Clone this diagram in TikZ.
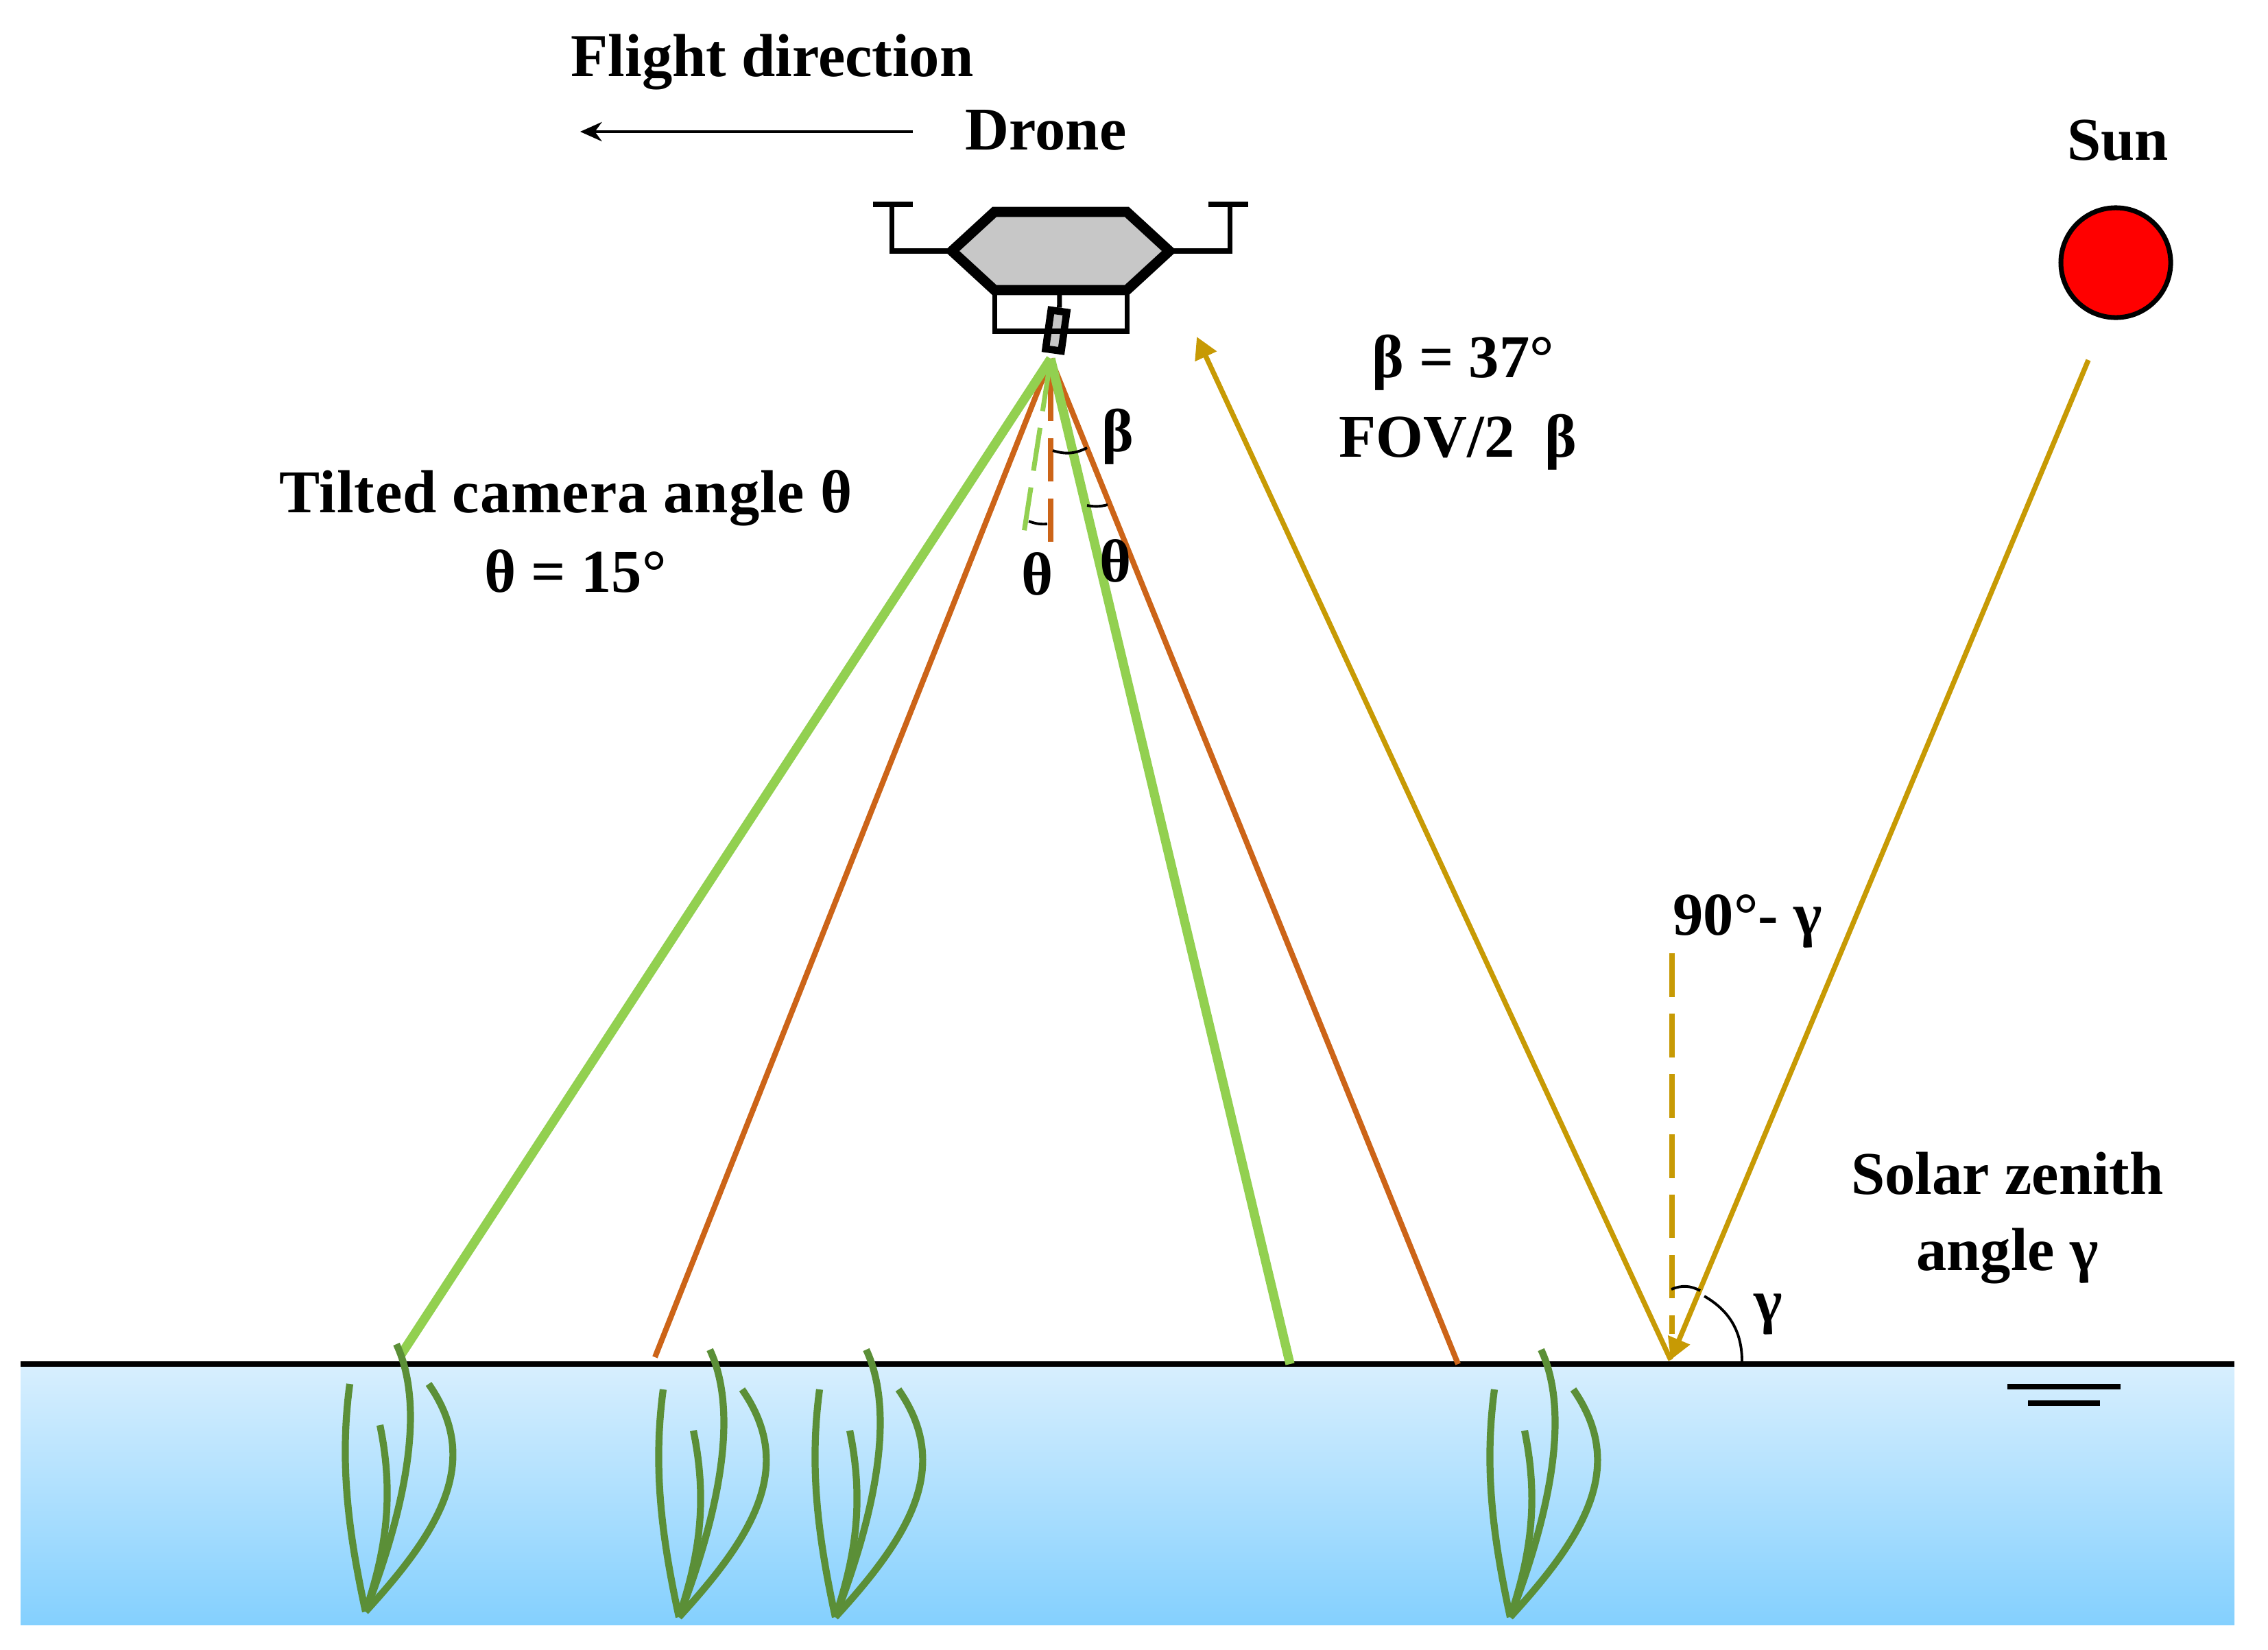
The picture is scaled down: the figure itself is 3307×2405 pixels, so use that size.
\documentclass[tikz,border=0pt]{standalone}
\usepackage{fontspec}
\setmainfont{Liberation Serif}
\usetikzlibrary{arrows.meta}
\definecolor{leafgreen}{HTML}{92D050}
\definecolor{rayorange}{HTML}{CC6418}
\definecolor{raygold}{HTML}{C79A04}
\definecolor{grassgreen}{HTML}{5B8F37}
\definecolor{waterTop}{HTML}{D8EFFE}
\definecolor{waterBottom}{HTML}{84D0FE}
\tikzset{
  lbl/.style={font=\bfseries\fontsize{25.2}{30}\selectfont, inner sep=0pt, align=center},
  greenray/.style={leafgreen, line width=3.8pt},
  orangeray/.style={rayorange, line width=2.3pt},
  goldray/.style={raygold, line width=2.1pt},
  goldtip/.style={-{Triangle[length=9pt,width=9.4pt]}},
  angarc/.style={black, line width=1.1pt},
  droneline/.style={black, line width=2pt},
  grass/.style={grassgreen, line width=2.9pt},
  pics/seagrass/.style={code={
    \draw[grass] (45,-390) .. controls (92,-290) and (50,-130) .. (0,0);
    \draw[grass] (-23,-332) .. controls (-38,-220) and (-26,-120) .. (0,0);
    \draw[grass] (21,-272) .. controls (42,-170) and (30,-90) .. (0,0);
    \draw[grass] (92,-332) .. controls (170,-220) and (110,-120) .. (0,0);
  }},
}
\begin{document}
\begin{tikzpicture}[x=0.01cm, y=-0.01cm]
  \useasboundingbox (0,0) rectangle (3307,2405);
  % water
  \shade[top color=waterTop, bottom color=waterBottom] (30,1989) rectangle (3258,2369);
  \coordinate (shoreL) at (30,1989);
  \coordinate (shoreR) at (3258,1989);
  \draw[black, line width=2.2pt] (shoreL) -- (shoreR);
  \draw[black, line width=2.2pt] (2927,2022) -- (3092,2022);
  \draw[black, line width=2.2pt] (2957,2046) -- (3062,2046);

  % view lines
  \coordinate (apex) at (1532,523);
  \coordinate (greenL) at (585,1975);
  \coordinate (greenR) at (1881,1989);
  \coordinate (orangeL) at (955,1979);
  \coordinate (orangeR) at (2126,1989);
  \coordinate (greenAxis) at (1493,777);
  \coordinate (orangeAxis) at (1532,790);
  \draw[orangeray] (apex) -- (orangeL);
  \draw[orangeray] (apex) -- (orangeR);
  \draw[orangeray, dash pattern=on 26pt off 7pt on 18pt off 7pt on 18pt off 7pt] (apex) -- (orangeAxis);
  \draw[greenray] (apex) -- (greenL);
  \draw[greenray] (apex) -- (greenR);
  \draw[leafgreen, line width=2pt, dash pattern=on 22pt off 7pt on 18pt off 7pt on 18pt off 7pt] (apex) -- (greenAxis);

  % seagrass
  \foreach \bx/\by in {533/2350, 990/2358, 1218/2358, 2202/2358}
    \pic at (\bx,\by) {seagrass};

  % small angle arcs
  \draw[angarc] (1535,657) to[bend right=22] (1585,653);
  \draw[angarc] (1585,737) to[bend right=12] (1615,736);
  \draw[angarc] (1500,760) to[bend right=12] (1527,764);

  % drone
  \node[draw=black, fill=black!22, line width=3pt, rotate=-8, minimum width=.23cm, minimum height=.57cm, inner sep=0pt] (camera) at (1540,482) {};
  \coordinate (bodyL) at (1388,366);
  \coordinate (bodyR) at (1705,366);
  \coordinate (bodyTL) at (1450,309);
  \coordinate (bodyTR) at (1643,309);
  \coordinate (bodyBL) at (1450,423);
  \coordinate (bodyBR) at (1643,423);
  \draw[droneline] (bodyBL) -- (1450,483) -- (1643,483) -- (bodyBR);
  \draw[droneline] (1545,423) -- (camera.north);
  \draw[droneline] (bodyL) -- (1300,366) -- (1300,298);
  \draw[droneline] (bodyR) -- (1793,366) -- (1793,298);
  \draw[droneline] (1273,298) -- (1331,298);
  \draw[droneline] (1762,298) -- (1820,298);
  \draw[black, fill=black!22, line width=4.2pt, line join=miter] (bodyL) -- (bodyTL) -- (bodyTR) -- (bodyR) -- (bodyBR) -- (bodyBL) -- cycle;

  % sun
  \node[draw=black, fill=red, circle, line width=2pt, minimum size=1.6cm, inner sep=0pt] (sunball) at (3085,383) {};
  \coordinate (sunfoot) at (3045,525);
  \coordinate (hit) at (2436,1983);
  \coordinate (reflect) at (1745,491);
  \coordinate (zenith) at (2438,1388);
  \coordinate (zenithfoot) at (2438,1945);
  \draw[goldray, goldtip] (sunfoot) -- (hit);
  \draw[goldray, goldtip] (hit) -- (reflect);
  \draw[goldray, line width=2.2pt, dash pattern=on 18pt off 7pt, dash phase=10.3pt] (zenithfoot) -- (zenith);
  \draw[angarc] (2437,1880) to[bend left=25] (2479,1882);
  \draw[angarc] (2485,1890) to[bend left=30] (2540,1985);

  % flight direction
  \coordinate (flightA) at (1331,192);
  \coordinate (flightB) at (846,192);
  \draw[black, line width=1.1pt, -{Stealth[length=9pt,width=8pt]}] (flightA) -- (flightB);

  % labels
  \node[lbl] (flightlbl) at (1126,91) {Flight direction};
  \node[lbl] (dronelbl) at (1525,190) {Drone};
  \node[lbl] (sunlbl) at (3088,205) {Sun};
  \node[lbl] (tiltlbl) at (825,726) {\addfontfeature{LetterSpace=1}Tilted camera angle θ};
  \node[lbl] (thetaval) at (839,833) {θ = 15°};
  \node[lbl] (betaval) at (2133,529) {β = 37°};
  \node[lbl] (fovlbl) at (2126,645) {FOV/2\ \ β};
  \node[lbl] (betalbl) at (1630,637) {β};
  \node[lbl] (thetaL) at (1513,837) {θ};
  \node[lbl] (thetaR) at (1627,818) {θ};
  \node[lbl] (gammaside) at (2548,1343) {90°- γ};
  \node[lbl] (solarlbl) at (2927,1776) {Solar zenith\\[1.8pt]angle γ};
  \node[lbl] (gammalbl) at (2578,1917) {γ};
\end{tikzpicture}
\end{document}
